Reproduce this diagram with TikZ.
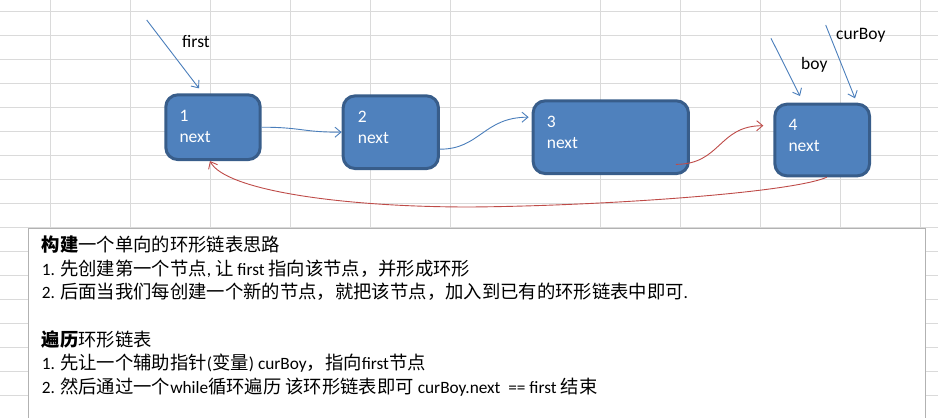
\documentclass[tikz,border=0pt]{standalone}
\usepackage{fontspec}
\setmainfont{Carlito}
\newfontfamily\cjk[Scale=1.06]{Noto Sans CJK SC}
\newcommand{\zh}[1]{{\cjk #1}}
\usetikzlibrary{arrows.meta,positioning,calc}
\definecolor{boxBlue}{RGB}{79,129,189}
\definecolor{boxEdge}{RGB}{56,93,138}
\definecolor{lineBlue}{RGB}{74,126,187}
\definecolor{lineRed}{RGB}{190,75,72}
\definecolor{gridGray}{RGB}{218,218,218}
\definecolor{frameGray}{RGB}{178,178,178}

\begin{document}
\begin{tikzpicture}[x=1pt,y=-1pt,font=\fontsize{17.5}{21}\selectfont,
    gridline/.style={draw=gridGray,line width=1pt},
    listnode/.style={draw=boxEdge,line width=3pt,fill=boxBlue,rounded corners=12pt,inner sep=0pt},
    nodetext/.style={text=white,align=left,inner sep=0pt},
    ptr/.style={draw=lineBlue,line width=0.9pt,-{Straight Barb[length=6pt,width=10pt]}},
    link/.style={ptr},
    back/.style={ptr,draw=lineRed},
    lbl/.style={anchor=base west,inner sep=0pt},
    boxtext/.style={anchor=base west,inner sep=0pt,font=\fontsize{17.3}{21}\selectfont}]
                \useasboundingbox (0,0) rectangle (938,418);
                \clip (0,0) rectangle (938,418);

                % sheet grid
                \foreach \y in {0,...,16}
                    \draw[gridline] (0,{11.5+24*\y}) -- (938,{11.5+24*\y});
                \foreach \x in {50.5,130.5,210.5,290.5,370.5,450.5,600.5,680.5,760.5,840.5,920.5}
                    \draw[gridline] (\x,0) -- (\x,418);

                \draw[draw=frameGray,line width=1.2pt,fill=white] (28.3,228.3) rectangle (925.7,440);

                % list nodes
                \node[listnode,minimum width=94.4pt,minimum height=64.7pt] (n1) at (213,127.2) {};
                \node[listnode,minimum width=95.3pt,minimum height=72.7pt] (n2) at (390.8,132.2) {};
                \node[listnode,minimum width=155.3pt,minimum height=72.7pt] (n3) at (610.8,137.2) {};
                \node[listnode,minimum width=94.7pt,minimum height=71.6pt] (n4) at (822.2,140) {};

                \node[nodetext,below right=16.3pt and 15pt of n1.north west] (n1t) {1\\next};
                \node[nodetext,below right=16.8pt and 16pt of n2.north west] (n2t) {2\\next};
                \node[nodetext,below right=16.8pt and 15pt of n3.north west] (n3t) {3\\next};
                \node[nodetext,below right=16.8pt and 15pt of n4.north west] (n4t) {4\\next};

                % pointers
                \coordinate (firstFrom) at (146.7,20);
                \coordinate (boyFrom) at (771,38.3);
                \coordinate (curFrom) at (825.7,25);
                \draw[ptr] (firstFrom) -- ($(n1.north)+(-14,-5)$);
                \draw[ptr] (boyFrom) -- ($(n4.north)+(-22.2,-6.7)$);
                \draw[ptr] (curFrom) -- ($(n4.north)+(32.8,-4.4)$);
                \node[lbl] (firstLbl) at (182,47) {first};
                \node[lbl] (boyLbl) at (801,69) {boy};
                \node[lbl] (curLbl) at (836,39.5) {curBoy};

                % next links
                \draw[link] (n1.east) .. controls +(40,0) and +(-40,0) .. (n2.west);
                \draw[link] ($(n2.east)+(0,17)$) .. controls +(40,0) and +(-45,0) .. ($(n3.west)+(-3,-20)$);
                \draw[back] ($(n3.south east)+(-14,-10.7)$) .. controls +(45,0) and +(-45,0) .. ($(n4.west)+(-10,-14.3)$);
                \coordinate (loopLow) at (470,207);
                \draw[back] ($(n4.south)+(4.5,0)$) .. controls +(-36.7,15.7) and +(130,-1) .. (loopLow)
                    .. controls +(-130,0) and +(15,29) .. ($(n1.south)+(-3,0)$);

                % notes
                \node[boxtext] (l1) at (41.7,251.3) {{\cjk\bfseries 构建}\zh{一个单向的环形链表思路}};
                \node[boxtext] (l2) at (41.7,275) {1. \zh{先创建第一个节点}, \zh{让} first \zh{指向该节点，并形成环形}};
                \node[boxtext] (l3) at (41.7,298.7) {2. \zh{后面当我们每创建一个新的节点，就把该节点，加入到已有的环形链表中即可}.};
                \node[boxtext] (l4) at (41.7,346) {{\cjk\bfseries 遍历}\zh{环形链表}};
                \node[boxtext] (l5) at (41.7,369.8) {1. \zh{先让一个辅助指针}(\zh{变量}) curBoy\zh{，指向}first\zh{节点}};
                \node[boxtext] (l6) at (41.7,393.5) {2. \zh{然后通过一个}while\zh{循环遍历} \zh{该环形链表即可} curBoy.next~ == first \zh{结束}};
            \end{tikzpicture}
\end{document}
